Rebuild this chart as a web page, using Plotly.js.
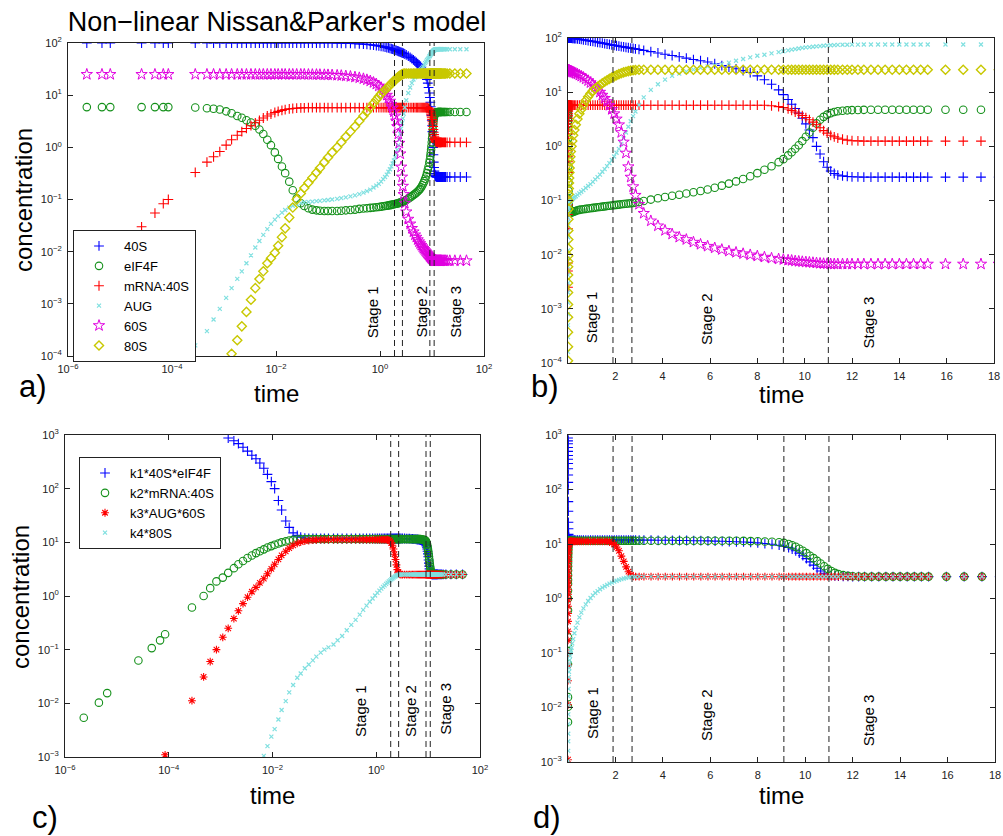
<!DOCTYPE html>
<html><head><meta charset="utf-8">
<script src="https://cdn.plot.ly/plotly-3.0.1.min.js"></script>
<style>html,body{margin:0;padding:0;background:#fff}#plot{width:1003px;height:836px}</style>
</head><body><div id="plot"></div>
<script>
// ---------- shared time points ----------
const time = [
 2.3e-6,4.5e-6,6.5e-6,2.6e-5,4.7e-5,6.8e-5,8.5e-5,2.8e-4,4.7e-4,6.3e-4,8.3e-4,
 1.1e-3,1.4e-3,1.8e-3,2.2e-3,2.7e-3,3.3e-3,4e-3,4.8e-3,5.7e-3,6.8e-3,8e-3,9.5e-3,0.011,0.013,0.015,0.018,0.021,0.025,0.03,0.035,0.042,0.05,0.06,0.07,0.085,0.1,
 0.12,0.15,0.18,0.22,0.27,0.33,0.4,0.48,0.56,0.65,0.75,0.85,0.95,1.05,1.15,1.25,1.35,1.45,1.55,1.65,1.75,1.85,1.95,2.05,2.15,2.25,2.35,2.45,2.55,2.65,2.75,2.85,3.0,
 3.2,3.5,3.8,4.1,4.4,4.7,5.0,5.3,5.6,5.9,6.2,6.5,6.8,7.1,7.4,7.7,8.0,8.3,8.6,8.9,9.1,9.3,9.45,9.6,9.75,9.9,10.05,10.2,10.35,10.5,10.65,10.8,10.95,11.1,11.25,11.4,11.6,11.8,12.0,12.25,12.5,12.8,13.1,13.4,13.7,14.0,14.3,14.6,14.9,15.2,
 15.95,16.7,17.45,18.2,19.5,22,27.5,35,46
];

// ---------- species concentrations (panels a, b) ----------
const s40S = [
 100,100,100,100,100,100,100,100,100,100,100,
 100,100,100,100,100,100,100,100,100,100,100,100,100,100,100,100,100,100,100,100,100,100,100,100,100,100,
 100,99.5,99,98.5,98,97,96,95,94,92.5,91,89.5,88,86.5,85,83.5,82,80.5,79,77.5,76,74.5,73,72,70.5,69.5,68.5,67,66,65,64,63,61.5,
 59,56,53,50,47.5,45,42.5,40,38,36,33.5,31,29,27,25,23,20,17,14,11,9,7.3,6,5,4.1,3.3,2.6,2,1.45,1.0,0.72,0.52,0.41,0.35,0.315,0.295,0.285,0.278,0.274,0.272,0.27,0.27,0.27,0.27,0.27,0.27,0.27,0.27,0.27,0.27,
 0.27,0.27,0.27,0.27,0.27,0.27,0.27,0.27,0.27
];
const eIF4F = [
 5.9,5.9,5.9,5.9,5.9,5.9,5.9,5.8,5.6,5.5,5.3,
 4.9,4.5,4.0,3.7,3.3,3.0,2.6,2.2,1.8,1.4,1.1,0.8,0.6,0.43,0.32,0.22,0.15,0.105,0.085,0.075,0.068,0.064,0.062,0.061,0.06,0.06,
 0.06,0.06,0.061,0.062,0.063,0.064,0.066,0.067,0.068,0.069,0.07,0.071,0.072,0.073,0.074,0.075,0.076,0.077,0.078,0.079,0.08,0.081,0.082,0.083,0.084,0.085,0.086,0.087,0.088,0.089,0.09,0.092,0.094,
 0.098,0.104,0.11,0.116,0.122,0.128,0.135,0.142,0.15,0.16,0.172,0.188,0.205,0.225,0.25,0.28,0.32,0.37,0.43,0.51,0.58,0.68,0.78,0.9,1.05,1.25,1.5,1.8,2.2,2.65,3.1,3.5,3.85,4.1,4.3,4.45,4.55,4.62,4.67,4.7,4.72,4.74,4.75,4.75,4.75,4.75,4.75,4.75,4.75,4.75,
 4.75,4.75,4.75,4.75,4.75,4.75,4.75,4.75,4.75
];
const mRNA40S = [
 0.0025,0.005,0.007,0.03,0.055,0.083,0.1,0.33,0.52,0.66,0.83,
 1.1,1.4,1.7,2.0,2.3,2.6,2.95,3.3,3.65,4.0,4.35,4.65,4.9,5.1,5.3,5.45,5.55,5.65,5.7,5.72,5.75,5.75,5.75,5.75,5.75,5.75,
 5.75,5.75,5.75,5.75,5.75,5.75,5.75,5.75,5.75,5.75,5.75,5.75,5.75,5.75,5.75,5.75,5.75,5.75,5.75,5.75,5.75,5.75,5.75,5.75,5.75,5.75,5.75,5.75,5.75,5.75,5.75,5.75,5.75,
 5.75,5.75,5.75,5.75,5.75,5.75,5.75,5.75,5.75,5.75,5.75,5.75,5.75,5.75,5.75,5.75,5.75,5.75,5.6,5.4,5.2,4.9,4.6,4.3,4.0,3.7,3.4,3.1,2.8,2.5,2.2,1.95,1.75,1.6,1.5,1.42,1.35,1.3,1.27,1.26,1.25,1.25,1.25,1.25,1.25,1.25,1.25,1.25,1.25,1.25,
 1.25,1.25,1.25,1.25,1.25,1.25,1.25,1.25,1.25
];
const AUG = [
 null,null,null,null,null,null,null,1.6e-4,3e-4,5e-4,8e-4,
 1.3e-3,2e-3,3e-3,4.2e-3,6e-3,8.5e-3,0.012,0.016,0.021,0.027,0.034,0.041,0.048,0.056,0.063,0.07,0.076,0.081,0.085,0.088,0.09,0.091,0.093,0.094,0.096,0.098,
 0.1,0.103,0.106,0.11,0.115,0.12,0.127,0.135,0.145,0.155,0.17,0.185,0.2,0.22,0.245,0.27,0.3,0.34,0.38,0.43,0.49,0.56,0.65,0.76,0.9,1.1,1.4,1.8,2.3,2.9,3.6,4.4,5.8,
 8,11,14,17,20,22,24,26,28,30,31.5,33,35,38,41,44,47,49,52,55,57,59,61,62.5,64,65.5,67,68,69,70,71,72,73,73.5,74,74.5,75,75,75.5,75.5,76,76,76,76,76,76,76,76,76,76,
 76,76,76,76,76,76,76,76,76
];
const s60S = [
 25,25,25,25,25,25,25,25,25,25,25,
 25,25,25,25,25,25,25,25,25,25,25,25,25,25,25,25,25,25,25,25,24.9,24.8,24.8,24.7,24.6,24.5,
 24.3,24,23.7,23.3,22.8,22.2,21.5,20.6,19.7,18.7,17.5,16.3,15,13.8,12.5,11.3,10,8.8,7.7,6.7,5.7,4.8,4,3.2,2.5,1.8,1.2,0.75,0.42,0.27,0.18,0.125,0.085,
 0.058,0.042,0.034,0.028,0.024,0.021,0.019,0.017,0.0155,0.0143,0.0133,0.0124,0.0116,0.011,0.0104,0.0099,0.0094,0.009,0.0086,0.0083,0.0081,0.0079,0.0078,0.0076,0.0075,0.0074,0.0073,0.0072,0.0071,0.007,0.0069,0.0068,0.0068,0.0067,0.0067,0.0067,0.0067,0.0067,0.0067,0.0067,0.0067,0.0067,0.0067,0.0067,0.0067,0.0067,0.0067,0.0067,0.0067,0.0067,
 0.0067,0.0067,0.0067,0.0067,0.0067,0.0067,0.0067,0.0067,0.0067
];
const s80S = [
 null,null,null,null,null,null,null,null,null,null,null,
 null,1.1e-4,2e-4,3.7e-4,7e-4,1.2e-3,2e-3,3e-3,4.2e-3,6e-3,7.5e-3,0.0095,0.013,0.019,0.028,0.045,0.07,0.1,0.13,0.166,0.21,0.26,0.33,0.4,0.52,0.64,
 0.8,1.0,1.25,1.6,2.0,2.5,3.2,4.0,4.8,5.8,7,8.2,9.4,10.6,11.6,12.6,13.6,14.6,15.6,16.6,17.6,18.6,19.6,20.6,21.5,22.4,23.2,23.9,24.5,25,25.4,25.7,26,
 26,26,26,26,26,26,26,26,26,26,26,26,26,26,26,26,26,26,26,26,26,26,26,26,26,26,26,26,26,26,26,26,26,26,26,26,26,26,26,26,26,26,26,26,26,26,26,26,26,26,
 26,26,26,26,26,26,26,26,26
];

// ---------- reaction rates (panels c, d) ----------
const rate1 = [ // k1*40S*eIF4F
 1900,1900,1900,1900,1900,1900,1900,1850,1750,1650,1500,
 1250,880,780,690,590,500,420,360,300,240,185,135,100,60,40,25,19,15,13.5,12.5,12,11.8,11.8,11.8,11.8,11.8,
 11.8,11.8,11.8,11.8,11.8,11.8,11.8,11.8,11.8,11.8,11.8,11.8,11.8,11.8,11.8,11.8,11.8,11.8,11.8,11.8,11.8,11.8,11.8,11.8,11.8,11.8,11.8,11.8,11.8,11.8,11.8,11.8,11.8,
 11.8,11.8,11.7,11.7,11.7,11.6,11.6,11.5,11.5,11.4,11.3,11.2,11.1,11.0,10.9,10.7,10.5,10.2,9.9,9.5,9.1,8.6,8.1,7.5,6.8,6.1,5.4,4.7,4.1,3.6,3.2,2.9,2.75,2.65,2.6,2.57,2.55,2.54,2.53,2.52,2.52,2.52,2.52,2.52,2.52,2.52,2.52,2.52,2.52,2.52,
 2.52,2.52,2.52,2.52,2.52,2.52,2.52,2.52,2.52
];
const rate2 = [ // k2*mRNA:40S
 0.0054,0.0103,0.0155,0.063,0.107,0.149,0.194,0.61,1.0,1.4,1.87,
 2.2,2.7,3.3,3.9,4.5,5.1,5.7,6.3,6.8,7.4,8.0,8.5,9.0,9.5,10,10.4,10.8,11.1,11.3,11.4,11.5,11.5,11.5,11.5,11.5,11.5,
 11.5,11.5,11.5,11.5,11.5,11.5,11.5,11.5,11.5,11.5,11.5,11.5,11.5,11.5,11.5,11.5,11.5,11.5,11.5,11.5,11.5,11.5,11.5,11.5,11.5,11.5,11.5,11.5,11.5,11.5,11.5,11.5,11.5,
 11.5,11.5,11.5,11.5,11.5,11.5,11.5,11.5,11.5,11.5,11.5,11.5,11.5,11.5,11.4,11.3,11.2,11.1,11.0,10.8,10.5,10.0,9.5,8.9,8.2,7.5,6.8,6.1,5.5,4.9,4.4,3.9,3.5,3.2,2.95,2.8,2.68,2.6,2.56,2.54,2.52,2.52,2.52,2.52,2.52,2.52,2.52,2.52,2.52,2.52,
 2.52,2.52,2.52,2.52,2.52,2.52,2.52,2.52,2.52
];
const rate3 = [ // k3*AUG*60S
 null,null,null,null,null,null,1.1e-3,0.0112,0.031,0.06,0.1,
 0.17,0.25,0.38,0.53,0.72,0.95,1.2,1.45,1.75,2.1,2.6,3.2,3.9,4.8,5.7,6.8,7.8,8.8,9.6,10.1,10.5,10.8,11,11.1,11.2,11.2,
 11.2,11.2,11.2,11.2,11.2,11.2,11.2,11.2,11.2,11.2,11.2,11.2,11.2,11.2,11.2,11.2,11.2,11.2,11.2,11.2,11.0,10.5,9.8,8.8,7.5,6.0,4.8,3.8,3.1,2.7,2.55,2.52,2.51,
 2.51,2.51,2.51,2.51,2.51,2.51,2.51,2.51,2.51,2.51,2.51,2.51,2.51,2.51,2.51,2.51,2.51,2.51,2.51,2.51,2.51,2.51,2.51,2.51,2.51,2.51,2.51,2.51,2.51,2.51,2.51,2.51,2.51,2.51,2.51,2.51,2.51,2.51,2.51,2.51,2.51,2.51,2.51,2.51,2.51,2.51,2.51,2.51,2.51,2.51,
 2.51,2.51,2.51,2.51,2.51,2.51,2.51,2.51,2.51
];
const rate4 = [ // k4*80S
 null,null,null,null,null,null,null,null,null,null,null,
 null,null,null,null,null,null,null,null,null,1.05e-3,1.6e-3,2.4e-3,3.3e-3,5e-3,7.5e-3,0.011,0.016,0.022,0.03,0.036,0.045,0.053,0.063,0.074,0.088,0.1,
 0.11,0.125,0.15,0.18,0.23,0.29,0.36,0.45,0.55,0.66,0.78,0.9,1.02,1.14,1.26,1.37,1.48,1.58,1.68,1.78,1.87,1.96,2.04,2.12,2.2,2.27,2.33,2.39,2.44,2.48,2.5,2.51,2.52,
 2.52,2.52,2.52,2.52,2.52,2.52,2.52,2.52,2.52,2.52,2.52,2.52,2.52,2.52,2.52,2.52,2.52,2.52,2.52,2.52,2.52,2.52,2.52,2.52,2.52,2.52,2.52,2.52,2.52,2.52,2.52,2.52,2.52,2.52,2.52,2.52,2.52,2.52,2.52,2.52,2.52,2.52,2.52,2.52,2.52,2.52,2.52,2.52,2.52,2.52,
 2.52,2.52,2.52,2.52,2.52,2.52,2.52,2.52,2.52
];

// ---------- stages, labels, ticks ----------
const stageTimes = [1.9, 2.7, 9.1, 11];
const stageNames = ['Stage 1', 'Stage 2', 'Stage 3'];
const stageLabelPos = {
  a: {t: [0.72, 6.4, 29],   c: [6.8e-4, 7.1e-4, 7.1e-4]},
  b: {t: [1.03, 5.85, 12.7], c: [7.1e-4, 6.6e-4, 5.5e-4]},
  c: {t: [0.51, 4.66, 22],  c: [7.2e-3, 7.2e-3, 7.9e-3]},
  d: {t: [1.03, 5.85, 12.7], c: [8.1e-3, 7.2e-3, 5.9e-3]}
};
const linTicks = [2, 4, 6, 8, 10, 12, 14, 16, 18];
const logTimeExps = [-6, -4, -2, 0, 2];
const concExpsAB = [-4, -3, -2, -1, 0, 1, 2];
const concExpsCD = [-3, -2, -1, 0, 1, 2, 3];
const speciesNames = ['40S', 'eIF4F', 'mRNA:40S', 'AUG', '60S', '80S'];
const rateNames = ['k1*40S*eIF4F', 'k2*mRNA:40S', 'k3*AUG*60S', 'k4*80S'];

// ---------- styles ----------
const FONT = 'Liberation Sans, Arial, Helvetica, sans-serif';
const speciesStyle = [
  {symbol:'cross-thin-open', color:'#0000ff', size:7, lw:1.1},
  {symbol:'circle-open', color:'#14901a', size:7.5, lw:1.1},
  {symbol:'cross-thin-open', color:'#ff0000', size:7, lw:1.1},
  {symbol:'x-thin-open', color:'#80e0e0', size:4, lw:1.2},
  {symbol:'star-open', color:'#e000e0', size:8.5, lw:1},
  {symbol:'diamond-open', color:'#c8c800', size:7, lw:1.4}
];
const rateStyle = [
  {symbol:'cross-thin-open', color:'#0000ff', size:7, lw:1.1},
  {symbol:'circle-open', color:'#14901a', size:7.5, lw:1.1},
  {symbol:'asterisk-open', color:'#ff0000', size:6.5, lw:1.1},
  {symbol:'x-thin-open', color:'#80e0e0', size:4, lw:1.2}
];
const speciesData = [s40S, eIF4F, mRNA40S, AUG, s60S, s80S];
const rateData = [rate1, rate2, rate3, rate4];

function markerTrace(y, name, st, xa, ya, legend, show) {
  return {x: time, y: y, name: name, type: 'scatter', mode: 'markers', xaxis: xa, yaxis: ya,
    legend: legend, showlegend: show, cliponaxis: true,
    marker: {symbol: st.symbol, size: st.size, color: st.color, line: {color: st.color, width: st.lw}}};
}
function stageTrace(xa, ya, ymin, ymax) {
  const xs = [], ys = [];
  stageTimes.forEach(t => { xs.push(t, t, null); ys.push(ymin, ymax, null); });
  return {x: xs, y: ys, mode: 'lines', xaxis: xa, yaxis: ya, showlegend: false, hoverinfo: 'skip',
    line: {color: '#222', width: 1, dash: '6px,4px'}};
}

const traces = [];
speciesData.forEach((d, i) => traces.push(markerTrace(d, speciesNames[i], speciesStyle[i], 'x', 'y', 'legend', true)));
traces.push(stageTrace('x', 'y', 1e-4, 1e2));
speciesData.forEach((d, i) => traces.push(markerTrace(d, speciesNames[i], speciesStyle[i], 'x2', 'y2', 'legend', false)));
traces.push(stageTrace('x2', 'y2', 1e-4, 1e2));
rateData.forEach((d, i) => traces.push(markerTrace(d, rateNames[i], rateStyle[i], 'x3', 'y3', 'legend2', true)));
traces.push(stageTrace('x3', 'y3', 1e-3, 1e3));
rateData.forEach((d, i) => traces.push(markerTrace(d, rateNames[i], rateStyle[i], 'x4', 'y4', 'legend2', false)));
traces.push(stageTrace('x4', 'y4', 1e-3, 1e3));

// ---------- layout ----------
const W = 1003, H = 836;
const px = v => v / W, py = v => 1 - v / H;
const powText = e => '10<sup>' + (e < 0 ? '\u2212' + (-e) : e) + '</sup>';
const axBase = {showline: true, linecolor: '#222', linewidth: 1, mirror: 'ticks', ticks: 'inside', ticklen: 5,
  tickcolor: '#222', showgrid: false, zeroline: false, ticklabelstandoff: 3,
  tickfont: {family: FONT, size: 11, color: '#222'}};
const logX = Object.assign({}, axBase, {type: 'log', range: [-6, 2], tickmode: 'array',
  tickvals: logTimeExps.map(e => Math.pow(10, e)), ticktext: logTimeExps.map(powText)});
const linX = Object.assign({}, axBase, {type: 'linear', range: [0, 18], tickmode: 'array', tickvals: linTicks});
const logY = (r, exps) => Object.assign({}, axBase, {type: 'log', range: r, tickmode: 'array',
  tickvals: exps.map(e => Math.pow(10, e)), ticktext: exps.map(powText)});

const annotations = [];
function addStageLabels(key, xa, ya, xlog) {
  const p = stageLabelPos[key];
  stageNames.forEach((s, i) => annotations.push({
    text: s, xref: xa, yref: ya, x: xlog ? Math.log10(p.t[i]) : p.t[i], y: Math.log10(p.c[i]),
    showarrow: false, textangle: -90, font: {family: FONT, size: 15, color: '#000'}
  }));
}
addStageLabels('a', 'x', 'y', true);
addStageLabels('b', 'x2', 'y2', false);
addStageLabels('c', 'x3', 'y3', true);
addStageLabels('d', 'x4', 'y4', false);
function paperText(text, x, y, size, angle) {
  annotations.push({text: text, xref: 'paper', yref: 'paper', x: px(x), y: py(y), xanchor: 'center', yanchor: 'middle',
    showarrow: false, textangle: angle || 0, font: {family: FONT, size: size, color: '#000'}});
}
paperText('concentration', 23, 200, 24, -90);
paperText('concentration', 20, 597, 24, -90);
paperText('time', 276, 393, 24);
paperText('time', 781, 394, 24);
paperText('time', 272, 795, 24);
paperText('time', 781, 795, 24);
paperText('a)', 33, 386, 31);
paperText('b)', 545, 386, 31);
paperText('c)', 45, 817, 31);
paperText('d)', 547, 817, 31);

const legendBase = {xanchor: 'left', yanchor: 'top', bgcolor: '#fff', bordercolor: '#222', borderwidth: 1,
  font: {family: FONT, size: 13, color: '#000'}, itemwidth: 40, tracegroupgap: 0};

const layout = {
  width: W, height: H, margin: {l: 0, r: 0, t: 0, b: 0}, paper_bgcolor: '#fff', plot_bgcolor: '#fff',
  font: {family: FONT, color: '#000'},
  title: {text: 'Non\u2212linear Nissan&amp;Parker\'s model', x: px(277), xanchor: 'center', y: py(22), yanchor: 'middle',
    font: {family: FONT, size: 27, color: '#000'}},
  xaxis: Object.assign({}, logX, {domain: [px(68), px(484)], anchor: 'y'}),
  yaxis: Object.assign({}, logY([-4, 2], concExpsAB), {domain: [py(356), py(43)], anchor: 'x'}),
  xaxis2: Object.assign({}, linX, {domain: [px(568), px(994)], anchor: 'y2'}),
  yaxis2: Object.assign({}, logY([-4, 2], concExpsAB), {domain: [py(363), py(38)], anchor: 'x2'}),
  xaxis3: Object.assign({}, logX, {domain: [px(65), px(480)], anchor: 'y3'}),
  yaxis3: Object.assign({}, logY([-3, 3], concExpsCD), {domain: [py(757), py(435)], anchor: 'x3'}),
  xaxis4: Object.assign({}, linX, {domain: [px(568), px(995)], anchor: 'y4'}),
  yaxis4: Object.assign({}, logY([-3, 3], concExpsCD), {domain: [py(762), py(435)], anchor: 'x4'}),
  legend: Object.assign({}, legendBase, {x: px(73), y: py(230)}),
  legend2: Object.assign({}, legendBase, {x: px(79), y: py(457)}),
  annotations: annotations
};

Plotly.newPlot('plot', traces, layout, {displayModeBar: false, staticPlot: true});
</script></body></html>
